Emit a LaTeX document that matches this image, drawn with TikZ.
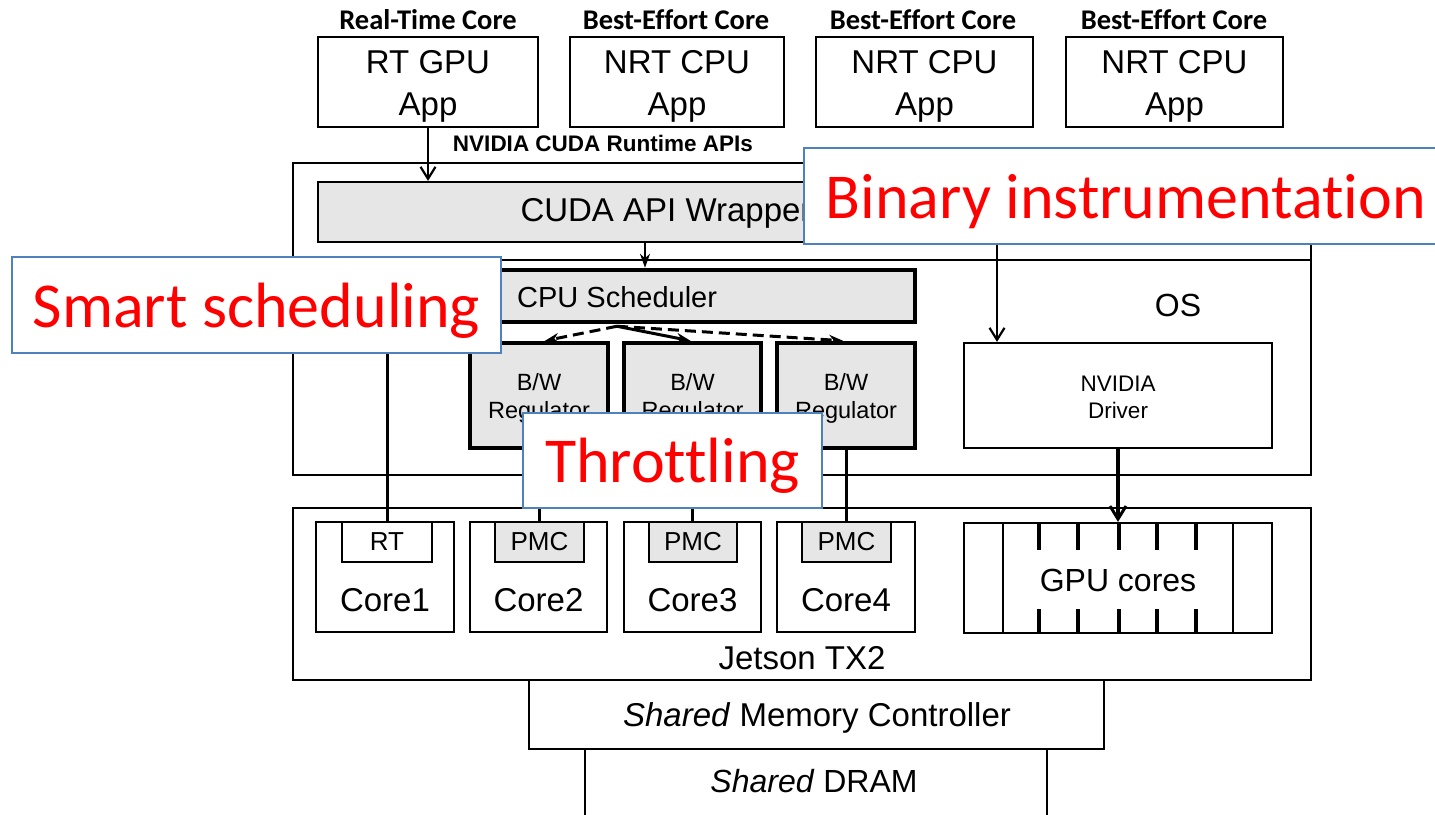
\documentclass[tikz,border=0pt]{standalone}
\usepackage{fontspec}
\setmainfont{Liberation Sans}
\newfontfamily\calibri[Ligatures=NoCommon]{Carlito}
\usetikzlibrary{arrows.meta,calc}

\definecolor{boxgray}{HTML}{E6E6E6}
\definecolor{calloutblue}{HTML}{4F81BD}
\definecolor{calloutred}{HTML}{FF0000}
\newcommand\fsize[2]{\fontsize{#1}{#2}\selectfont}

\begin{document}
\begin{tikzpicture}[x=1pt,y=-1pt,line width=2.2pt,
  box/.style={draw,line width=2.2pt,inner sep=0pt,align=center},
  gbox/.style={box,fill=boxgray},
  heavybox/.style={gbox,line width=4.5pt},
  apptext/.style={font=\fsize{33}{42},align=center,inner sep=0pt},
  coretext/.style={font=\fsize{33}{38}},
  smalltext/.style={font=\fsize{23.5}{28},align=center,inner sep=0pt},
  tagtext/.style={font=\fsize{26}{30}},
  header/.style={font=\calibri\bfseries\fsize{28.5}{32}},
  callout/.style={draw=calloutblue,line width=1.5pt,fill=white,
    text=calloutred,font=\calibri\fsize{64}{72},inner sep=0pt,text depth=0pt},
  barb/.style={-{Straight Barb[length=12pt,width=15pt,line width=2.2pt]}},
  tri/.style={-{Stealth[length=14pt,width=10pt]}},
  wire/.style={line width=3pt}]

\useasboundingbox (0,0) rectangle (1435,814);

% ---- applications on the cores
\node[header] (hd1) at (428,20) {Real-Time Core};
\node[header] (hd2) at (676,20) {Best-Effort Core};
\node[header] (hd3) at (923,20) {Best-Effort Core};
\node[header] (hd4) at (1174,20) {Best-Effort Core};

\node[box,minimum width=220pt,minimum height=90pt] (app1) at (428,82) {};
\node[box,minimum width=214pt,minimum height=90pt] (app2) at (677,82) {};
\node[box,minimum width=217pt,minimum height=90pt] (app3) at (924.5,82) {};
\node[box,minimum width=217pt,minimum height=90pt] (app4) at (1174.5,82) {};
\node[apptext] (app1txt) at ([yshift=-4pt]app1.center) {RT GPU\\App};
\node[apptext] (app2txt) at ([yshift=-4pt]app2.center) {NRT CPU\\App};
\node[apptext] (app3txt) at ([yshift=-4pt]app3.center) {NRT CPU\\App};
\node[apptext] (app4txt) at ([yshift=-4pt]app4.center) {NRT CPU\\App};

\node[font=\bfseries\fsize{22.5}{26}] (apis) at (603,143) {NVIDIA CUDA Runtime APIs};

% ---- software stack (user level + OS)
\node[box,minimum width=1018pt,minimum height=312pt] (os) at (802,319) {};
\coordinate (osdiv) at (0,260);
\draw (os.west |- osdiv) -- (os.east |- osdiv);
\node[font=\fsize{32}{36}] (oslabel) at (1178,305) {OS};

\node[gbox,minimum width=702pt,minimum height=60pt] (wrapper) at (669,212) {};
\node[font=\fsize{33}{38}] (wraptxt) at (666,213) {CUDA API Wrapper};
\draw[barb] (app1.south) -- (app1.south |- wrapper.north);

\node[heavybox,minimum width=420pt,minimum height=52pt] (sched) at (705,296) {};
\node[anchor=west,font=\fsize{29}{34}] (schedtxt) at ([xshift=20pt,yshift=-1pt]sched.west) {CPU Scheduler};
\coordinate (wsplit) at ([xshift=-24pt]wrapper.south);
\draw[tri,line width=2.2pt] (wsplit) -- (wsplit |- sched.north);

\node[heavybox,minimum width=138pt,minimum height=105pt] (regA) at (539,395.5) {};
\node[heavybox,minimum width=137pt,minimum height=105pt] (regB) at (692.5,395.5) {};
\node[heavybox,minimum width=138pt,minimum height=105pt] (regC) at (846,395.5) {};
\node[smalltext] (regAtxt) at ([yshift=-3pt]regA.center) {B/W\\Regulator};
\node[smalltext] (regBtxt) at ([yshift=-3pt]regB.center) {B/W\\Regulator};
\node[smalltext] (regCtxt) at ([yshift=-3pt]regC.center) {B/W\\Regulator};

\coordinate (fork) at ([xshift=-88pt,yshift=-2pt]sched.south);
\draw[tri,line width=3pt,dash pattern=on 11pt off 6pt] (fork) -- ([xshift=6pt]regA.north);
\draw[tri,line width=3pt] (fork) -- ([xshift=-2pt]regB.north);
\draw[tri,line width=3pt,dash pattern=on 11pt off 6pt] (fork) -- ([xshift=-3pt]regC.north);

\node[box,minimum width=308pt,minimum height=105pt] (driver) at (1118,395.5) {};
\node[smalltext,font=\fsize{22.5}{27}] (drvtxt) at ([yshift=-2pt]driver.center) {NVIDIA\\Driver};

% ---- Jetson TX2 board
\node[box,minimum width=1018pt,minimum height=172pt] (jetson) at (802,594) {};
\node[font=\fsize{33}{38}] (jetsonlabel) at (802,658) {Jetson TX2};

\node[box,minimum width=138pt,minimum height=110pt] (core1) at (385,577) {};
\node[box,minimum width=137pt,minimum height=110pt] (core2) at (538.5,577) {};
\node[box,minimum width=137pt,minimum height=110pt] (core3) at (692.5,577) {};
\node[box,minimum width=138pt,minimum height=110pt] (core4) at (846,577) {};
\node[coretext] (c1txt) at ([yshift=-23pt]core1.center) {Core1};
\node[coretext] (c2txt) at ([yshift=-23pt]core2.center) {Core2};
\node[coretext] (c3txt) at ([yshift=-23pt]core3.center) {Core3};
\node[coretext] (c4txt) at ([yshift=-23pt]core4.center) {Core4};

\node[box,tagtext,minimum width=90pt,minimum height=40pt] (rt) at (387,542) {RT};
\node[gbox,tagtext,minimum width=89pt,minimum height=40pt] (pmc2) at (539.5,542) {PMC};
\node[gbox,tagtext,minimum width=88pt,minimum height=40pt] (pmc3) at (693,542) {PMC};
\node[gbox,tagtext,minimum width=89pt,minimum height=40pt] (pmc4) at (846.5,542) {PMC};

\draw[wire] (rt.north) -- (rt.north |- osdiv);
\draw[wire] (regA.south) -- (regA.south |- pmc2.north);
\draw[wire] (regB.south) -- (regB.south |- pmc3.north);
\draw[wire] (regC.south) -- (regC.south |- pmc4.north);

\node[box,minimum width=308pt,minimum height=110pt] (gpu) at (1118,578) {};
\draw (1003,523) -- (1003,633);
\draw (1233,523) -- (1233,633);
\foreach \tx in {1039,1078,1119,1157,1196} {
  \draw[line width=3.5pt] (\tx,523) -- (\tx,550);
  \draw[line width=3.5pt] (\tx,609) -- (\tx,633);
}
\node[font=\fsize{32}{38},inner sep=1pt] (gputxt) at (1118,580) {GPU cores};
\draw[line width=4pt,-{Straight Barb[length=13pt,width=16pt,line width=3pt]}] (driver.south) -- (gpu.north);

% ---- memory system
\node[box,minimum width=575pt,minimum height=69pt] (mc) at (816.5,714.5) {};
\node[font=\fsize{33}{38}] (mctxt) at (817,718) {\textit{Shared} Memory Controller};
\node[font=\fsize{32}{38}] (dram) at (814,781) {\textit{Shared} DRAM};
\coordinate (bottom) at (0,830);
\coordinate (dramL) at ([xshift=57pt]mc.south west);
\coordinate (dramR) at ([xshift=-58pt]mc.south east);
\draw (dramL) -- (dramL |- bottom);
\draw (dramR) -- (dramR |- bottom);

% ---- highlighted techniques
\node[callout,anchor=west,minimum height=96pt,inner xsep=22pt] (binary) at (803,196) {Binary instrumentation};
\coordinate (drvin) at ([xshift=-121pt]driver.north);
\draw[barb] (drvin |- binary.south) -- (drvin);

\node[callout,minimum width=489pt,minimum height=96pt] (smart) at (256.5,305) {Smart scheduling};
\node[callout,minimum width=299pt,minimum height=95pt] (throttle) at (672.5,460.5) {Throttling};

\end{tikzpicture}
\end{document}
